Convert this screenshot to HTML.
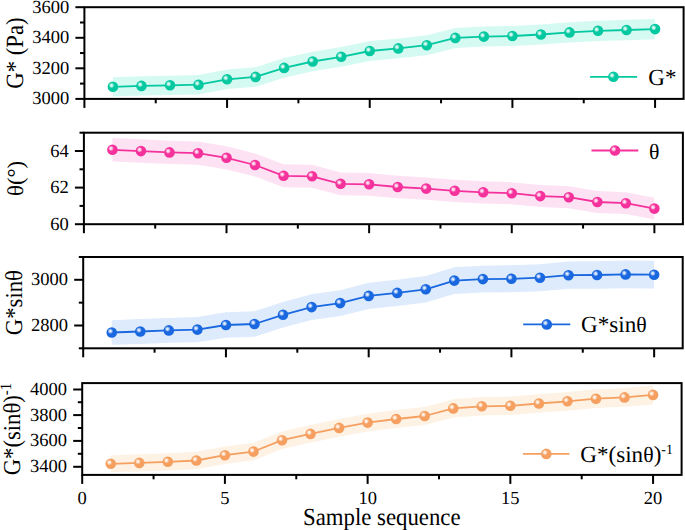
<!DOCTYPE html><html><head><meta charset="utf-8"><style>html,body{margin:0;padding:0;background:#fff;}svg{display:block;}</style></head><body>
<svg width="685" height="530" viewBox="0 0 685 530" font-family='"Liberation Serif", serif' text-rendering="geometricPrecision">
<defs>
<radialGradient id="gp1" cx="0.37" cy="0.37" r="0.6" fx="0.37" fy="0.37"><stop offset="0" stop-color="#ffffff" stop-opacity="1"/><stop offset="0.2" stop-color="#ffffff" stop-opacity="0.7"/><stop offset="0.45" stop-color="#ffffff" stop-opacity="0"/><stop offset="1" stop-color="#ffffff" stop-opacity="0"/></radialGradient>
<radialGradient id="gp2" cx="0.37" cy="0.37" r="0.6" fx="0.37" fy="0.37"><stop offset="0" stop-color="#ffffff" stop-opacity="1"/><stop offset="0.2" stop-color="#ffffff" stop-opacity="0.7"/><stop offset="0.45" stop-color="#ffffff" stop-opacity="0"/><stop offset="1" stop-color="#ffffff" stop-opacity="0"/></radialGradient>
<radialGradient id="gp3" cx="0.37" cy="0.37" r="0.6" fx="0.37" fy="0.37"><stop offset="0" stop-color="#ffffff" stop-opacity="1"/><stop offset="0.2" stop-color="#ffffff" stop-opacity="0.7"/><stop offset="0.45" stop-color="#ffffff" stop-opacity="0"/><stop offset="1" stop-color="#ffffff" stop-opacity="0"/></radialGradient>
<radialGradient id="gp4" cx="0.37" cy="0.37" r="0.6" fx="0.37" fy="0.37"><stop offset="0" stop-color="#ffffff" stop-opacity="1"/><stop offset="0.2" stop-color="#ffffff" stop-opacity="0.7"/><stop offset="0.45" stop-color="#ffffff" stop-opacity="0"/><stop offset="1" stop-color="#ffffff" stop-opacity="0"/></radialGradient>
</defs>
<polygon points="112.93,77.20 141.47,76.27 170.00,75.64 198.53,75.01 227.07,69.57 255.60,67.14 284.13,58.11 312.67,51.68 341.20,46.95 369.73,41.12 398.27,38.48 426.80,35.25 455.33,27.92 483.87,26.59 512.40,25.96 540.93,24.43 569.47,22.29 598.00,20.66 626.53,19.83 655.07,18.90 655.07,39.30 626.53,40.17 598.00,40.94 569.47,42.51 540.93,44.57 512.40,46.04 483.87,46.61 455.33,47.88 426.80,55.15 398.27,58.32 369.73,60.88 341.20,66.65 312.67,71.32 284.13,77.69 255.60,86.66 227.07,89.03 198.53,94.39 170.00,94.96 141.47,95.53 112.93,96.40" fill="#D5FAF2"/>
<polyline points="112.93,86.80 141.47,85.90 170.00,85.30 198.53,84.70 227.07,79.30 255.60,76.90 284.13,67.90 312.67,61.50 341.20,56.80 369.73,51.00 398.27,48.40 426.80,45.20 455.33,37.90 483.87,36.60 512.40,36.00 540.93,34.50 569.47,32.40 598.00,30.80 626.53,30.00 655.07,29.10" fill="none" stroke="#04C9A0" stroke-width="1.8" stroke-linejoin="round"/>
<circle cx="112.93" cy="86.80" r="5.3" fill="#04C9A0"/><circle cx="112.93" cy="86.80" r="5.3" fill="url(#gp1)"/>
<circle cx="141.47" cy="85.90" r="5.3" fill="#04C9A0"/><circle cx="141.47" cy="85.90" r="5.3" fill="url(#gp1)"/>
<circle cx="170.00" cy="85.30" r="5.3" fill="#04C9A0"/><circle cx="170.00" cy="85.30" r="5.3" fill="url(#gp1)"/>
<circle cx="198.53" cy="84.70" r="5.3" fill="#04C9A0"/><circle cx="198.53" cy="84.70" r="5.3" fill="url(#gp1)"/>
<circle cx="227.07" cy="79.30" r="5.3" fill="#04C9A0"/><circle cx="227.07" cy="79.30" r="5.3" fill="url(#gp1)"/>
<circle cx="255.60" cy="76.90" r="5.3" fill="#04C9A0"/><circle cx="255.60" cy="76.90" r="5.3" fill="url(#gp1)"/>
<circle cx="284.13" cy="67.90" r="5.3" fill="#04C9A0"/><circle cx="284.13" cy="67.90" r="5.3" fill="url(#gp1)"/>
<circle cx="312.67" cy="61.50" r="5.3" fill="#04C9A0"/><circle cx="312.67" cy="61.50" r="5.3" fill="url(#gp1)"/>
<circle cx="341.20" cy="56.80" r="5.3" fill="#04C9A0"/><circle cx="341.20" cy="56.80" r="5.3" fill="url(#gp1)"/>
<circle cx="369.73" cy="51.00" r="5.3" fill="#04C9A0"/><circle cx="369.73" cy="51.00" r="5.3" fill="url(#gp1)"/>
<circle cx="398.27" cy="48.40" r="5.3" fill="#04C9A0"/><circle cx="398.27" cy="48.40" r="5.3" fill="url(#gp1)"/>
<circle cx="426.80" cy="45.20" r="5.3" fill="#04C9A0"/><circle cx="426.80" cy="45.20" r="5.3" fill="url(#gp1)"/>
<circle cx="455.33" cy="37.90" r="5.3" fill="#04C9A0"/><circle cx="455.33" cy="37.90" r="5.3" fill="url(#gp1)"/>
<circle cx="483.87" cy="36.60" r="5.3" fill="#04C9A0"/><circle cx="483.87" cy="36.60" r="5.3" fill="url(#gp1)"/>
<circle cx="512.40" cy="36.00" r="5.3" fill="#04C9A0"/><circle cx="512.40" cy="36.00" r="5.3" fill="url(#gp1)"/>
<circle cx="540.93" cy="34.50" r="5.3" fill="#04C9A0"/><circle cx="540.93" cy="34.50" r="5.3" fill="url(#gp1)"/>
<circle cx="569.47" cy="32.40" r="5.3" fill="#04C9A0"/><circle cx="569.47" cy="32.40" r="5.3" fill="url(#gp1)"/>
<circle cx="598.00" cy="30.80" r="5.3" fill="#04C9A0"/><circle cx="598.00" cy="30.80" r="5.3" fill="url(#gp1)"/>
<circle cx="626.53" cy="30.00" r="5.3" fill="#04C9A0"/><circle cx="626.53" cy="30.00" r="5.3" fill="url(#gp1)"/>
<circle cx="655.07" cy="29.10" r="5.3" fill="#04C9A0"/><circle cx="655.07" cy="29.10" r="5.3" fill="url(#gp1)"/>
<rect x="84.4" y="7.2" width="599.20" height="91.70" fill="none" stroke="#000" stroke-width="2.0"/>
<line x1="75.40" y1="7.20" x2="84.4" y2="7.20" stroke="#000" stroke-width="2.0"/>
<text x="69.20" y="12.70" font-size="18.5" text-anchor="end">3600</text>
<line x1="80.00" y1="22.50" x2="84.4" y2="22.50" stroke="#000" stroke-width="2.0"/>
<line x1="75.40" y1="37.80" x2="84.4" y2="37.80" stroke="#000" stroke-width="2.0"/>
<text x="69.20" y="43.30" font-size="18.5" text-anchor="end">3400</text>
<line x1="80.00" y1="53.05" x2="84.4" y2="53.05" stroke="#000" stroke-width="2.0"/>
<line x1="75.40" y1="68.30" x2="84.4" y2="68.30" stroke="#000" stroke-width="2.0"/>
<text x="69.20" y="73.80" font-size="18.5" text-anchor="end">3200</text>
<line x1="80.00" y1="83.60" x2="84.4" y2="83.60" stroke="#000" stroke-width="2.0"/>
<line x1="75.40" y1="98.90" x2="84.4" y2="98.90" stroke="#000" stroke-width="2.0"/>
<text x="69.20" y="104.40" font-size="18.5" text-anchor="end">3000</text>
<line x1="84.40" y1="98.9" x2="84.40" y2="107.90" stroke="#000" stroke-width="2.0"/>
<line x1="155.73" y1="98.9" x2="155.73" y2="103.30" stroke="#000" stroke-width="2.0"/>
<line x1="227.07" y1="98.9" x2="227.07" y2="107.90" stroke="#000" stroke-width="2.0"/>
<line x1="298.40" y1="98.9" x2="298.40" y2="103.30" stroke="#000" stroke-width="2.0"/>
<line x1="369.73" y1="98.9" x2="369.73" y2="107.90" stroke="#000" stroke-width="2.0"/>
<line x1="441.07" y1="98.9" x2="441.07" y2="103.30" stroke="#000" stroke-width="2.0"/>
<line x1="512.40" y1="98.9" x2="512.40" y2="107.90" stroke="#000" stroke-width="2.0"/>
<line x1="583.73" y1="98.9" x2="583.73" y2="103.30" stroke="#000" stroke-width="2.0"/>
<line x1="655.07" y1="98.9" x2="655.07" y2="107.90" stroke="#000" stroke-width="2.0"/>
<text transform="translate(22.80,53.05) rotate(-90) scale(1,1.09)" font-size="22.7" text-anchor="middle">G* (Pa)</text>
<line x1="590.1" y1="76.8" x2="637.1" y2="76.8" stroke="#04C9A0" stroke-width="1.8"/>
<circle cx="613.4" cy="76.8" r="5.3" fill="#04C9A0"/><circle cx="613.4" cy="76.8" r="5.3" fill="url(#gp1)"/>
<text transform="translate(648.3,85.1) scale(1,1.0)" font-size="23.1">G*</text>
<polygon points="112.42,138.00 140.95,139.35 169.47,140.71 198.00,141.56 226.52,146.21 255.04,153.46 283.57,164.32 312.09,164.87 340.61,172.42 369.14,172.97 397.66,175.73 426.19,177.38 454.71,179.63 483.23,181.18 511.76,182.14 540.28,185.09 568.80,186.24 597.33,191.09 625.85,192.35 654.38,197.80 654.38,219.40 625.85,214.05 597.33,212.91 568.80,208.16 540.28,207.11 511.76,204.26 483.23,203.42 454.71,201.97 426.19,199.82 397.66,198.27 369.14,195.63 340.61,195.18 312.09,187.73 283.57,187.28 255.04,176.54 226.52,169.39 198.00,164.84 169.47,164.09 140.95,162.85 112.42,161.60" fill="#FDE2F4"/>
<polyline points="112.42,149.80 140.95,151.10 169.47,152.40 198.00,153.20 226.52,157.80 255.04,165.00 283.57,175.80 312.09,176.30 340.61,183.80 369.14,184.30 397.66,187.00 426.19,188.60 454.71,190.80 483.23,192.30 511.76,193.20 540.28,196.10 568.80,197.20 597.33,202.00 625.85,203.20 654.38,208.60" fill="none" stroke="#F5329C" stroke-width="1.8" stroke-linejoin="round"/>
<circle cx="112.42" cy="149.80" r="5.3" fill="#F5329C"/><circle cx="112.42" cy="149.80" r="5.3" fill="url(#gp2)"/>
<circle cx="140.95" cy="151.10" r="5.3" fill="#F5329C"/><circle cx="140.95" cy="151.10" r="5.3" fill="url(#gp2)"/>
<circle cx="169.47" cy="152.40" r="5.3" fill="#F5329C"/><circle cx="169.47" cy="152.40" r="5.3" fill="url(#gp2)"/>
<circle cx="198.00" cy="153.20" r="5.3" fill="#F5329C"/><circle cx="198.00" cy="153.20" r="5.3" fill="url(#gp2)"/>
<circle cx="226.52" cy="157.80" r="5.3" fill="#F5329C"/><circle cx="226.52" cy="157.80" r="5.3" fill="url(#gp2)"/>
<circle cx="255.04" cy="165.00" r="5.3" fill="#F5329C"/><circle cx="255.04" cy="165.00" r="5.3" fill="url(#gp2)"/>
<circle cx="283.57" cy="175.80" r="5.3" fill="#F5329C"/><circle cx="283.57" cy="175.80" r="5.3" fill="url(#gp2)"/>
<circle cx="312.09" cy="176.30" r="5.3" fill="#F5329C"/><circle cx="312.09" cy="176.30" r="5.3" fill="url(#gp2)"/>
<circle cx="340.61" cy="183.80" r="5.3" fill="#F5329C"/><circle cx="340.61" cy="183.80" r="5.3" fill="url(#gp2)"/>
<circle cx="369.14" cy="184.30" r="5.3" fill="#F5329C"/><circle cx="369.14" cy="184.30" r="5.3" fill="url(#gp2)"/>
<circle cx="397.66" cy="187.00" r="5.3" fill="#F5329C"/><circle cx="397.66" cy="187.00" r="5.3" fill="url(#gp2)"/>
<circle cx="426.19" cy="188.60" r="5.3" fill="#F5329C"/><circle cx="426.19" cy="188.60" r="5.3" fill="url(#gp2)"/>
<circle cx="454.71" cy="190.80" r="5.3" fill="#F5329C"/><circle cx="454.71" cy="190.80" r="5.3" fill="url(#gp2)"/>
<circle cx="483.23" cy="192.30" r="5.3" fill="#F5329C"/><circle cx="483.23" cy="192.30" r="5.3" fill="url(#gp2)"/>
<circle cx="511.76" cy="193.20" r="5.3" fill="#F5329C"/><circle cx="511.76" cy="193.20" r="5.3" fill="url(#gp2)"/>
<circle cx="540.28" cy="196.10" r="5.3" fill="#F5329C"/><circle cx="540.28" cy="196.10" r="5.3" fill="url(#gp2)"/>
<circle cx="568.80" cy="197.20" r="5.3" fill="#F5329C"/><circle cx="568.80" cy="197.20" r="5.3" fill="url(#gp2)"/>
<circle cx="597.33" cy="202.00" r="5.3" fill="#F5329C"/><circle cx="597.33" cy="202.00" r="5.3" fill="url(#gp2)"/>
<circle cx="625.85" cy="203.20" r="5.3" fill="#F5329C"/><circle cx="625.85" cy="203.20" r="5.3" fill="url(#gp2)"/>
<circle cx="654.38" cy="208.60" r="5.3" fill="#F5329C"/><circle cx="654.38" cy="208.60" r="5.3" fill="url(#gp2)"/>
<rect x="83.9" y="132.7" width="599.00" height="91.50" fill="none" stroke="#000" stroke-width="2.0"/>
<line x1="79.50" y1="132.70" x2="83.9" y2="132.70" stroke="#000" stroke-width="2.0"/>
<line x1="74.90" y1="151.00" x2="83.9" y2="151.00" stroke="#000" stroke-width="2.0"/>
<text x="68.70" y="156.50" font-size="18.5" text-anchor="end">64</text>
<line x1="79.50" y1="169.30" x2="83.9" y2="169.30" stroke="#000" stroke-width="2.0"/>
<line x1="74.90" y1="187.60" x2="83.9" y2="187.60" stroke="#000" stroke-width="2.0"/>
<text x="68.70" y="193.10" font-size="18.5" text-anchor="end">62</text>
<line x1="79.50" y1="205.90" x2="83.9" y2="205.90" stroke="#000" stroke-width="2.0"/>
<line x1="74.90" y1="224.20" x2="83.9" y2="224.20" stroke="#000" stroke-width="2.0"/>
<text x="68.70" y="229.70" font-size="18.5" text-anchor="end">60</text>
<line x1="83.90" y1="224.2" x2="83.90" y2="233.20" stroke="#000" stroke-width="2.0"/>
<line x1="155.21" y1="224.2" x2="155.21" y2="228.60" stroke="#000" stroke-width="2.0"/>
<line x1="226.52" y1="224.2" x2="226.52" y2="233.20" stroke="#000" stroke-width="2.0"/>
<line x1="297.83" y1="224.2" x2="297.83" y2="228.60" stroke="#000" stroke-width="2.0"/>
<line x1="369.14" y1="224.2" x2="369.14" y2="233.20" stroke="#000" stroke-width="2.0"/>
<line x1="440.45" y1="224.2" x2="440.45" y2="228.60" stroke="#000" stroke-width="2.0"/>
<line x1="511.76" y1="224.2" x2="511.76" y2="233.20" stroke="#000" stroke-width="2.0"/>
<line x1="583.07" y1="224.2" x2="583.07" y2="228.60" stroke="#000" stroke-width="2.0"/>
<line x1="654.38" y1="224.2" x2="654.38" y2="233.20" stroke="#000" stroke-width="2.0"/>
<text transform="translate(23.00,178.45) rotate(-90) scale(1,1.0)" font-size="22.7" text-anchor="middle">θ(°)</text>
<line x1="591.5" y1="150.5" x2="638.3" y2="150.5" stroke="#F5329C" stroke-width="1.8"/>
<circle cx="615.0" cy="150.5" r="5.3" fill="#F5329C"/><circle cx="615.0" cy="150.5" r="5.3" fill="url(#gp2)"/>
<text transform="translate(649.0,158.6) scale(1,1.0)" font-size="23.1"><tspan font-size="21.8">θ</tspan></text>
<polygon points="111.75,320.20 140.30,319.12 168.84,317.93 197.39,317.05 225.94,312.36 254.49,311.28 283.03,301.99 311.58,294.21 340.13,290.13 368.68,282.84 397.22,279.76 425.77,276.07 454.32,267.29 482.87,265.71 511.41,265.32 539.96,264.14 568.51,261.55 597.06,261.27 625.60,260.58 654.15,260.80 654.15,288.60 625.60,288.22 597.06,288.73 568.51,288.85 539.96,291.26 511.41,292.28 482.87,292.49 454.32,293.91 425.77,302.53 397.22,306.04 368.68,308.96 340.13,316.07 311.58,319.99 283.03,327.61 254.49,336.72 225.94,337.64 197.39,342.15 168.84,342.87 140.30,343.88 111.75,344.80" fill="#DDEBFD"/>
<polyline points="111.75,332.50 140.30,331.50 168.84,330.40 197.39,329.60 225.94,325.00 254.49,324.00 283.03,314.80 311.58,307.10 340.13,303.10 368.68,295.90 397.22,292.90 425.77,289.30 454.32,280.60 482.87,279.10 511.41,278.80 539.96,277.70 568.51,275.20 597.06,275.00 625.60,274.40 654.15,274.70" fill="none" stroke="#1A68E0" stroke-width="1.8" stroke-linejoin="round"/>
<circle cx="111.75" cy="332.50" r="5.3" fill="#1A68E0"/><circle cx="111.75" cy="332.50" r="5.3" fill="url(#gp3)"/>
<circle cx="140.30" cy="331.50" r="5.3" fill="#1A68E0"/><circle cx="140.30" cy="331.50" r="5.3" fill="url(#gp3)"/>
<circle cx="168.84" cy="330.40" r="5.3" fill="#1A68E0"/><circle cx="168.84" cy="330.40" r="5.3" fill="url(#gp3)"/>
<circle cx="197.39" cy="329.60" r="5.3" fill="#1A68E0"/><circle cx="197.39" cy="329.60" r="5.3" fill="url(#gp3)"/>
<circle cx="225.94" cy="325.00" r="5.3" fill="#1A68E0"/><circle cx="225.94" cy="325.00" r="5.3" fill="url(#gp3)"/>
<circle cx="254.49" cy="324.00" r="5.3" fill="#1A68E0"/><circle cx="254.49" cy="324.00" r="5.3" fill="url(#gp3)"/>
<circle cx="283.03" cy="314.80" r="5.3" fill="#1A68E0"/><circle cx="283.03" cy="314.80" r="5.3" fill="url(#gp3)"/>
<circle cx="311.58" cy="307.10" r="5.3" fill="#1A68E0"/><circle cx="311.58" cy="307.10" r="5.3" fill="url(#gp3)"/>
<circle cx="340.13" cy="303.10" r="5.3" fill="#1A68E0"/><circle cx="340.13" cy="303.10" r="5.3" fill="url(#gp3)"/>
<circle cx="368.68" cy="295.90" r="5.3" fill="#1A68E0"/><circle cx="368.68" cy="295.90" r="5.3" fill="url(#gp3)"/>
<circle cx="397.22" cy="292.90" r="5.3" fill="#1A68E0"/><circle cx="397.22" cy="292.90" r="5.3" fill="url(#gp3)"/>
<circle cx="425.77" cy="289.30" r="5.3" fill="#1A68E0"/><circle cx="425.77" cy="289.30" r="5.3" fill="url(#gp3)"/>
<circle cx="454.32" cy="280.60" r="5.3" fill="#1A68E0"/><circle cx="454.32" cy="280.60" r="5.3" fill="url(#gp3)"/>
<circle cx="482.87" cy="279.10" r="5.3" fill="#1A68E0"/><circle cx="482.87" cy="279.10" r="5.3" fill="url(#gp3)"/>
<circle cx="511.41" cy="278.80" r="5.3" fill="#1A68E0"/><circle cx="511.41" cy="278.80" r="5.3" fill="url(#gp3)"/>
<circle cx="539.96" cy="277.70" r="5.3" fill="#1A68E0"/><circle cx="539.96" cy="277.70" r="5.3" fill="url(#gp3)"/>
<circle cx="568.51" cy="275.20" r="5.3" fill="#1A68E0"/><circle cx="568.51" cy="275.20" r="5.3" fill="url(#gp3)"/>
<circle cx="597.06" cy="275.00" r="5.3" fill="#1A68E0"/><circle cx="597.06" cy="275.00" r="5.3" fill="url(#gp3)"/>
<circle cx="625.60" cy="274.40" r="5.3" fill="#1A68E0"/><circle cx="625.60" cy="274.40" r="5.3" fill="url(#gp3)"/>
<circle cx="654.15" cy="274.70" r="5.3" fill="#1A68E0"/><circle cx="654.15" cy="274.70" r="5.3" fill="url(#gp3)"/>
<rect x="83.2" y="257.0" width="599.50" height="91.30" fill="none" stroke="#000" stroke-width="2.0"/>
<line x1="78.80" y1="257.00" x2="83.2" y2="257.00" stroke="#000" stroke-width="2.0"/>
<line x1="74.20" y1="279.80" x2="83.2" y2="279.80" stroke="#000" stroke-width="2.0"/>
<text x="68.00" y="285.30" font-size="18.5" text-anchor="end">3000</text>
<line x1="78.80" y1="302.65" x2="83.2" y2="302.65" stroke="#000" stroke-width="2.0"/>
<line x1="74.20" y1="325.50" x2="83.2" y2="325.50" stroke="#000" stroke-width="2.0"/>
<text x="68.00" y="331.00" font-size="18.5" text-anchor="end">2800</text>
<line x1="78.80" y1="348.30" x2="83.2" y2="348.30" stroke="#000" stroke-width="2.0"/>
<line x1="83.20" y1="348.3" x2="83.20" y2="357.30" stroke="#000" stroke-width="2.0"/>
<line x1="154.57" y1="348.3" x2="154.57" y2="352.70" stroke="#000" stroke-width="2.0"/>
<line x1="225.94" y1="348.3" x2="225.94" y2="357.30" stroke="#000" stroke-width="2.0"/>
<line x1="297.31" y1="348.3" x2="297.31" y2="352.70" stroke="#000" stroke-width="2.0"/>
<line x1="368.68" y1="348.3" x2="368.68" y2="357.30" stroke="#000" stroke-width="2.0"/>
<line x1="440.05" y1="348.3" x2="440.05" y2="352.70" stroke="#000" stroke-width="2.0"/>
<line x1="511.41" y1="348.3" x2="511.41" y2="357.30" stroke="#000" stroke-width="2.0"/>
<line x1="582.78" y1="348.3" x2="582.78" y2="352.70" stroke="#000" stroke-width="2.0"/>
<line x1="654.15" y1="348.3" x2="654.15" y2="357.30" stroke="#000" stroke-width="2.0"/>
<text transform="translate(21.60,302.65) rotate(-90) scale(1,1.07)" font-size="22.7" text-anchor="middle">G*sinθ</text>
<line x1="523.2" y1="324.4" x2="570.3" y2="324.4" stroke="#1A68E0" stroke-width="1.8"/>
<circle cx="546.8" cy="324.4" r="5.3" fill="#1A68E0"/><circle cx="546.8" cy="324.4" r="5.3" fill="url(#gp3)"/>
<text transform="translate(581.0,332.3) scale(1,1.0)" font-size="23.1">G*sin<tspan font-size="21.8">θ</tspan></text>
<polygon points="110.74,455.30 139.29,454.35 167.83,453.19 196.37,451.84 224.91,446.49 253.46,442.84 282.00,431.38 310.54,425.03 339.09,418.98 367.63,413.63 396.17,409.97 424.71,406.92 453.26,399.27 481.80,397.12 510.34,396.56 538.89,394.21 567.43,391.96 595.97,389.31 624.51,387.95 653.06,385.40 653.06,404.40 624.51,406.85 595.97,408.09 567.43,410.64 538.89,412.79 510.34,415.04 481.80,415.48 453.26,417.53 424.71,425.08 396.17,428.03 367.63,431.57 339.09,436.82 310.54,442.77 282.00,449.02 253.46,460.36 224.91,463.91 196.37,469.16 167.83,470.41 139.29,471.45 110.74,472.30" fill="#FEF2E5"/>
<polyline points="110.74,463.80 139.29,462.90 167.83,461.80 196.37,460.50 224.91,455.20 253.46,451.60 282.00,440.20 310.54,433.90 339.09,427.90 367.63,422.60 396.17,419.00 424.71,416.00 453.26,408.40 481.80,406.30 510.34,405.80 538.89,403.50 567.43,401.30 595.97,398.70 624.51,397.40 653.06,394.90" fill="none" stroke="#F5A060" stroke-width="1.8" stroke-linejoin="round"/>
<circle cx="110.74" cy="463.80" r="5.3" fill="#F5A060"/><circle cx="110.74" cy="463.80" r="5.3" fill="url(#gp4)"/>
<circle cx="139.29" cy="462.90" r="5.3" fill="#F5A060"/><circle cx="139.29" cy="462.90" r="5.3" fill="url(#gp4)"/>
<circle cx="167.83" cy="461.80" r="5.3" fill="#F5A060"/><circle cx="167.83" cy="461.80" r="5.3" fill="url(#gp4)"/>
<circle cx="196.37" cy="460.50" r="5.3" fill="#F5A060"/><circle cx="196.37" cy="460.50" r="5.3" fill="url(#gp4)"/>
<circle cx="224.91" cy="455.20" r="5.3" fill="#F5A060"/><circle cx="224.91" cy="455.20" r="5.3" fill="url(#gp4)"/>
<circle cx="253.46" cy="451.60" r="5.3" fill="#F5A060"/><circle cx="253.46" cy="451.60" r="5.3" fill="url(#gp4)"/>
<circle cx="282.00" cy="440.20" r="5.3" fill="#F5A060"/><circle cx="282.00" cy="440.20" r="5.3" fill="url(#gp4)"/>
<circle cx="310.54" cy="433.90" r="5.3" fill="#F5A060"/><circle cx="310.54" cy="433.90" r="5.3" fill="url(#gp4)"/>
<circle cx="339.09" cy="427.90" r="5.3" fill="#F5A060"/><circle cx="339.09" cy="427.90" r="5.3" fill="url(#gp4)"/>
<circle cx="367.63" cy="422.60" r="5.3" fill="#F5A060"/><circle cx="367.63" cy="422.60" r="5.3" fill="url(#gp4)"/>
<circle cx="396.17" cy="419.00" r="5.3" fill="#F5A060"/><circle cx="396.17" cy="419.00" r="5.3" fill="url(#gp4)"/>
<circle cx="424.71" cy="416.00" r="5.3" fill="#F5A060"/><circle cx="424.71" cy="416.00" r="5.3" fill="url(#gp4)"/>
<circle cx="453.26" cy="408.40" r="5.3" fill="#F5A060"/><circle cx="453.26" cy="408.40" r="5.3" fill="url(#gp4)"/>
<circle cx="481.80" cy="406.30" r="5.3" fill="#F5A060"/><circle cx="481.80" cy="406.30" r="5.3" fill="url(#gp4)"/>
<circle cx="510.34" cy="405.80" r="5.3" fill="#F5A060"/><circle cx="510.34" cy="405.80" r="5.3" fill="url(#gp4)"/>
<circle cx="538.89" cy="403.50" r="5.3" fill="#F5A060"/><circle cx="538.89" cy="403.50" r="5.3" fill="url(#gp4)"/>
<circle cx="567.43" cy="401.30" r="5.3" fill="#F5A060"/><circle cx="567.43" cy="401.30" r="5.3" fill="url(#gp4)"/>
<circle cx="595.97" cy="398.70" r="5.3" fill="#F5A060"/><circle cx="595.97" cy="398.70" r="5.3" fill="url(#gp4)"/>
<circle cx="624.51" cy="397.40" r="5.3" fill="#F5A060"/><circle cx="624.51" cy="397.40" r="5.3" fill="url(#gp4)"/>
<circle cx="653.06" cy="394.90" r="5.3" fill="#F5A060"/><circle cx="653.06" cy="394.90" r="5.3" fill="url(#gp4)"/>
<rect x="82.2" y="383.1" width="599.40" height="91.80" fill="none" stroke="#000" stroke-width="2.0"/>
<line x1="73.20" y1="389.50" x2="82.2" y2="389.50" stroke="#000" stroke-width="2.0"/>
<text x="67.00" y="395.00" font-size="18.5" text-anchor="end">4000</text>
<line x1="77.80" y1="402.20" x2="82.2" y2="402.20" stroke="#000" stroke-width="2.0"/>
<line x1="73.20" y1="415.10" x2="82.2" y2="415.10" stroke="#000" stroke-width="2.0"/>
<text x="67.00" y="420.60" font-size="18.5" text-anchor="end">3800</text>
<line x1="77.80" y1="428.00" x2="82.2" y2="428.00" stroke="#000" stroke-width="2.0"/>
<line x1="73.20" y1="440.90" x2="82.2" y2="440.90" stroke="#000" stroke-width="2.0"/>
<text x="67.00" y="446.40" font-size="18.5" text-anchor="end">3600</text>
<line x1="77.80" y1="453.80" x2="82.2" y2="453.80" stroke="#000" stroke-width="2.0"/>
<line x1="73.20" y1="466.80" x2="82.2" y2="466.80" stroke="#000" stroke-width="2.0"/>
<text x="67.00" y="472.30" font-size="18.5" text-anchor="end">3400</text>
<line x1="82.20" y1="474.9" x2="82.20" y2="483.90" stroke="#000" stroke-width="2.0"/>
<text x="82.20" y="503.50" font-size="18.5" text-anchor="middle">0</text>
<line x1="153.56" y1="474.9" x2="153.56" y2="479.30" stroke="#000" stroke-width="2.0"/>
<line x1="224.91" y1="474.9" x2="224.91" y2="483.90" stroke="#000" stroke-width="2.0"/>
<text x="224.91" y="503.50" font-size="18.5" text-anchor="middle">5</text>
<line x1="296.27" y1="474.9" x2="296.27" y2="479.30" stroke="#000" stroke-width="2.0"/>
<line x1="367.63" y1="474.9" x2="367.63" y2="483.90" stroke="#000" stroke-width="2.0"/>
<text x="367.63" y="503.50" font-size="18.5" text-anchor="middle">10</text>
<line x1="438.99" y1="474.9" x2="438.99" y2="479.30" stroke="#000" stroke-width="2.0"/>
<line x1="510.34" y1="474.9" x2="510.34" y2="483.90" stroke="#000" stroke-width="2.0"/>
<text x="510.34" y="503.50" font-size="18.5" text-anchor="middle">15</text>
<line x1="581.70" y1="474.9" x2="581.70" y2="479.30" stroke="#000" stroke-width="2.0"/>
<line x1="653.06" y1="474.9" x2="653.06" y2="483.90" stroke="#000" stroke-width="2.0"/>
<text x="653.06" y="503.50" font-size="18.5" text-anchor="middle">20</text>
<text transform="translate(19.80,429.00) rotate(-90) scale(1,1.07)" font-size="22.7" text-anchor="middle">G*(sinθ)<tspan dy="-8" font-size="15">-1</tspan></text>
<line x1="522.9" y1="453.9" x2="569.4" y2="453.9" stroke="#F5A060" stroke-width="1.8"/>
<circle cx="546.3" cy="453.9" r="5.3" fill="#F5A060"/><circle cx="546.3" cy="453.9" r="5.3" fill="url(#gp4)"/>
<text transform="translate(580.3,462.0) scale(1,1.0)" font-size="23.1">G*(sin<tspan font-size="21.8">θ</tspan>)<tspan dy="-8.5" font-size="14">-1</tspan></text>
<text transform="translate(381.8,524.5) scale(1,1.075)" font-size="22.8" text-anchor="middle">Sample sequence</text>
</svg></body></html>
